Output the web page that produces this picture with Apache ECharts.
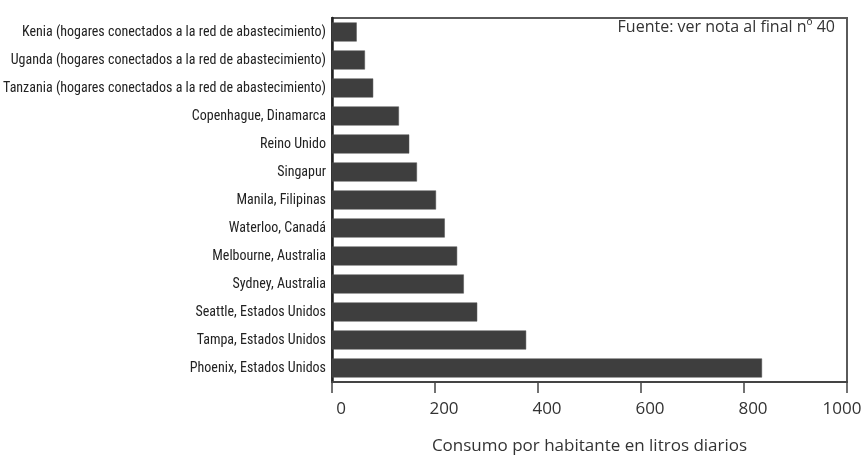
<!DOCTYPE html>
<html>
<head>
<meta charset="utf-8">
<script src="https://cdn.jsdelivr.net/npm/echarts@6/dist/echarts.min.js"></script>
<style>
  html, body { margin: 0; padding: 0; background: #fff; }
  #chart { width: 866px; height: 459px; }
</style>
</head>
<body>
<div id="chart"></div>
<script>
// categories top to bottom, as in the picture
const cities = [
  'Kenia (hogares conectados a la red de abastecimiento)',
  'Uganda (hogares conectados a la red de abastecimiento)',
  'Tanzania (hogares conectados a la red de abastecimiento)',
  'Copenhague, Dinamarca',
  'Reino Unido',
  'Singapur',
  'Manila, Filipinas',
  'Waterloo, Canadá',
  'Melbourne, Australia',
  'Sydney, Australia',
  'Seattle, Estados Unidos',
  'Tampa, Estados Unidos',
  'Phoenix, Estados Unidos'
];
// litros por habitante y día
const litros = [48, 64, 80, 130, 150, 165, 202, 219, 243, 256, 282, 377, 835];
const xTicks = [0, 200, 400, 600, 800, 1000];

const chart = echarts.init(document.getElementById('chart'));

const option = {
  animation: false,
  backgroundColor: '#fff',
  grid: {
    left: 332,
    right: 19,
    top: 18,
    bottom: 77,
    show: true,
    borderColor: '#5a5a5a',
    borderWidth: 2,
    outerBoundsMode: 'none',
    containLabel: false
  },
  graphic: [
    {
      type: 'text',
      right: 31,
      top: 19,
      style: {
        text: 'Fuente: ver nota al final nº 40',
        font: '16px "Open Sans"',
        fill: '#333'
      }
    }
  ],
  xAxis: {
    type: 'value',
    min: xTicks[0],
    max: xTicks[xTicks.length - 1],
    interval: 200,
    name: 'Consumo por habitante en litros diarios',
    nameLocation: 'middle',
    nameGap: 56,
    nameTextStyle: {
      fontFamily: 'Open Sans',
      fontSize: 17,
      color: '#333'
    },
    axisLine: { show: true, lineStyle: { color: '#444', width: 2 } },
    axisTick: { show: true, length: 11, lineStyle: { color: '#444', width: 1.5 } },
    axisLabel: {
      fontFamily: 'Open Sans',
      fontSize: 17,
      color: '#333',
      margin: 19,
      // last label sits a little left of its tick, the others a little right
      formatter: (v) => (v === xTicks[xTicks.length - 1] ? '{e|' + v + '}' : '{n|' + v + '}'),
      rich: {
        n: { fontFamily: 'Open Sans', fontSize: 17, color: '#333', padding: [0, 0, 0, 18] },
        e: { fontFamily: 'Open Sans', fontSize: 17, color: '#333', padding: [0, 10, 0, 0] }
      }
    },
    splitLine: { show: false }
  },
  yAxis: {
    type: 'category',
    inverse: true,
    data: cities,
    axisLine: { show: true, lineStyle: { color: '#222', width: 2.5 } },
    axisTick: { show: false },
    axisLabel: {
      fontFamily: 'Roboto Condensed',
      fontSize: 14,
      color: '#222',
      margin: 6
    }
  },
  series: [
    {
      type: 'bar',
      data: litros,
      barWidth: '68%',
      itemStyle: {
        color: '#3e3e3e',
        borderColor: '#555',
        borderWidth: 0.5
      }
    }
  ]
};

chart.setOption(option);
</script>
</body>
</html>
